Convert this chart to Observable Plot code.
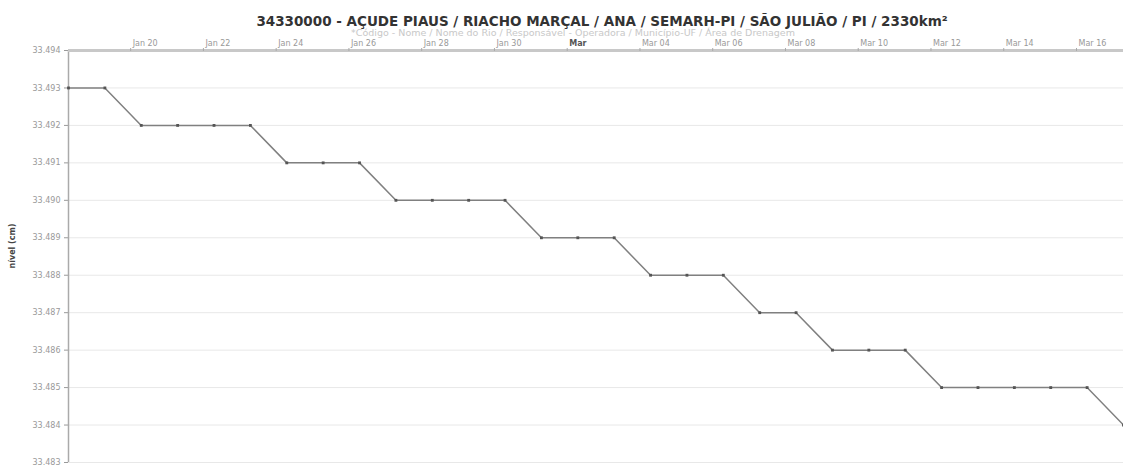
<!DOCTYPE html>
<html>
<head>
<meta charset="utf-8">
<script src="https://cdn.jsdelivr.net/npm/d3@7"></script>
<script src="https://cdn.jsdelivr.net/npm/@observablehq/plot@0.6"></script>
<style>
  html, body { margin: 0; padding: 0; background: #fff; }
  #chart svg { display: block; }
</style>
</head>
<body>
<div id="chart"></div>
<script>
const titleText = "34330000 - AÇUDE PIAUS / RIACHO MARÇAL / ANA / SEMARH-PI / SÃO JULIÃO / PI / 2330km²";
const subtitleText = "*Código - Nome / Nome do Rio / Responsável - Operadora / Município-UF / Área de Drenagem";
const yLabel = "nível (cm)";

const dates = [
  "2021-01-18T07:00Z","2021-01-19T07:00Z","2021-01-20T07:00Z","2021-01-21T07:00Z","2021-01-22T07:00Z",
  "2021-01-23T07:00Z","2021-01-24T07:00Z","2021-01-25T07:00Z","2021-01-26T07:00Z","2021-01-27T07:00Z",
  "2021-01-28T07:00Z","2021-01-29T07:00Z","2021-01-30T07:00Z","2021-01-31T07:00Z","2021-02-01T07:00Z",
  "2021-02-02T07:00Z","2021-02-03T07:00Z","2021-02-04T07:00Z","2021-02-05T07:00Z","2021-02-06T07:00Z",
  "2021-02-07T07:00Z","2021-02-08T07:00Z","2021-02-09T07:00Z","2021-02-10T07:00Z","2021-02-11T07:00Z",
  "2021-02-12T07:00Z","2021-02-13T07:00Z","2021-02-14T07:00Z","2021-02-15T07:00Z","2021-02-16T07:00Z"
];
const levels = [
  33.493, 33.493, 33.492, 33.492, 33.492,
  33.492, 33.491, 33.491, 33.491, 33.490,
  33.490, 33.490, 33.490, 33.489, 33.489,
  33.489, 33.488, 33.488, 33.488, 33.487,
  33.487, 33.486, 33.486, 33.486, 33.485,
  33.485, 33.485, 33.485, 33.485, 33.484
];

const yTicks = [33.483, 33.484, 33.485, 33.486, 33.487, 33.488, 33.489, 33.490, 33.491, 33.492, 33.493, 33.494];

const xTickDates = [
  "2021-01-20T00:00Z","2021-01-22T00:00Z","2021-01-24T00:00Z","2021-01-26T00:00Z","2021-01-28T00:00Z",
  "2021-01-30T00:00Z","2021-02-01T00:00Z","2021-02-03T00:00Z","2021-02-05T00:00Z","2021-02-07T00:00Z",
  "2021-02-09T00:00Z","2021-02-11T00:00Z","2021-02-13T00:00Z","2021-02-15T00:00Z"
];
const xTickLabels = [
  "Jan 20","Jan 22","Jan 24","Jan 26","Jan 28","Jan 30","Mar",
  "Mar 04","Mar 06","Mar 08","Mar 10","Mar 12","Mar 14","Mar 16"
];
const xTickBold = [false,false,false,false,false,false,true,false,false,false,false,false,false,false];

const xDomain = ["2021-01-18T07:00Z", "2021-02-16T07:00Z"];

const data = dates.map((d, i) => ({date: new Date(d), level: levels[i]}));
const ticks = xTickDates.map((d, i) => ({date: new Date(d), label: xTickLabels[i], bold: xTickBold[i]}));
const font = "DejaVu Sans, Verdana, sans-serif";

const chart = Plot.plot({
  width: 1123,
  height: 466,
  marginLeft: 68,
  marginRight: 0,
  marginTop: 50,
  marginBottom: 4,
  style: {fontFamily: font, background: "#fff", overflow: "visible"},
  x: {type: "utc", domain: xDomain.map(d => new Date(d))},
  y: {domain: [33.483, 33.494]},
  marks: [
    Plot.gridY(yTicks, {stroke: "#e8e8e8", strokeOpacity: 1}),
    Plot.axisY(yTicks, {tickFormat: d3.format(".3f"), fontSize: 8, tickSize: 4, tickPadding: 4, label: null, color: "#999"}),
    Plot.ruleX([new Date(xDomain[0])], {stroke: "#aaa", strokeWidth: 1.5}),
    Plot.ruleY([33.494], {stroke: "#c8c8c8", strokeWidth: 3}),
    Plot.axisX(ticks.map(t => t.date), {anchor: "top", tickSize: 3, tickFormat: () => "", label: null, color: "#aaa"}),
    Plot.text(ticks.filter(t => !t.bold), {x: "date", text: "label", frameAnchor: "top", dy: -5, dx: 2, textAnchor: "start", lineAnchor: "bottom", fontSize: 8, fill: "#999"}),
    Plot.text(ticks.filter(t => t.bold), {x: "date", text: "label", frameAnchor: "top", dy: -5, dx: 2, textAnchor: "start", lineAnchor: "bottom", fontSize: 8, fontWeight: "bold", fill: "#555"}),
    Plot.line(data, {x: "date", y: "level", stroke: "#808080", strokeWidth: 1.5}),
    Plot.dot(data, {x: "date", y: "level", symbol: "square", r: 1.6, fill: "#555", stroke: "none"}),
    Plot.text([titleText], {text: d => d, frameAnchor: "top", dx: 6, dy: -34, fontSize: 13.5, fontWeight: "bold", fill: "#333"}),
    Plot.text([subtitleText], {text: d => d, frameAnchor: "top", dx: -23, dy: -21, fontSize: 9.5, fill: "#c8c8c8"}),
    Plot.text([yLabel], {text: d => d, frameAnchor: "left", dx: -56, dy: 12, rotate: -90, fontSize: 8, fontWeight: "bold", fill: "#444"})
  ]
});
document.getElementById("chart").appendChild(chart);
</script>
</body>
</html>
